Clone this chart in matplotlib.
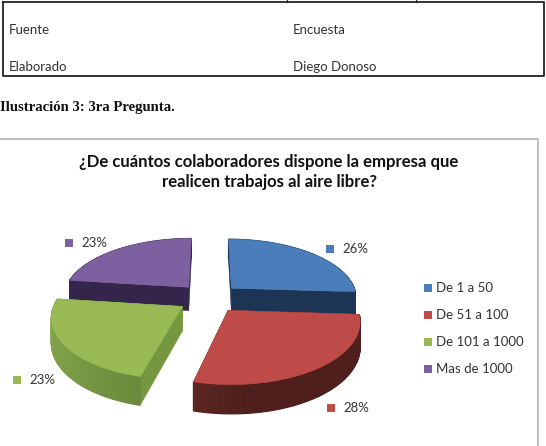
import numpy as np
import matplotlib
matplotlib.use('Agg')
import matplotlib.pyplot as plt
from matplotlib.patches import Polygon, Rectangle
from matplotlib.colors import to_rgb

# chart data
categories = ['De 1 a 50', 'De 51 a 100', 'De 101 a 1000', 'Mas de 1000']
shares = [26, 28, 23, 23]
share_labels = ['26%', '28%', '23%', '23%']
colors = ['#4a7ebb', '#be4b48', '#98b954', '#7d60a0']
edge_colors = ['#1c3555', '#4e1f1c', '#76963f', '#33264a']
wall_light = ['#264a75', '#7c3330', '#83a34a', '#33264a']
wall_dark = ['#1c3555', '#4e1f1c', '#5f7d35', '#33264a']
title = '¿De cuántos colaboradores dispone la empresa que\nrealicen trabajos al aire libre?'

# table fragment above the chart
table_rows = [('Fuente', 'Encuesta'), ('Elaborado', 'Diego Donoso')]
caption = 'Ilustración 3: 3ra Pregunta.'

# projection of the pie
CX, CY = 209, 298
RX, RY = 126, 59
TILT = 0.15
HEIGHT = 24
EXPLODE = 0.25

plt.rcParams['font.family'] = ['Lato', 'DejaVu Sans']

fig = plt.figure(figsize=(5.46, 4.46), dpi=100)
ax = fig.add_axes([0, 0, 1, 1])
ax.set_xlim(0, 546)
ax.set_ylim(446, 0)
ax.axis('off')


def project(x, y, z):
    s = 1 / (1 + TILT * y)
    return CX + RX * x * s, CY - RY * y * s - HEIGHT * (z - 1) * s


def face(points, color, zorder, lw=0.4):
    ax.add_patch(Polygon(points, closed=True, facecolor=color, edgecolor=color,
                         linewidth=lw, zorder=zorder))


def draw_slice(start, stop, i, zorder):
    mid = np.radians((start + stop) / 2)
    ox, oy = EXPLODE * np.cos(mid), EXPLODE * np.sin(mid)
    angles = np.radians(np.linspace(start, stop, 80))
    xs = ox + np.cos(angles)
    ys = oy + np.sin(angles)

    # flat side faces running from the centre to the rim
    for k in (0, -1):
        face([project(ox, oy, 1), project(xs[k], ys[k], 1),
              project(xs[k], ys[k], 0), project(ox, oy, 0)], edge_colors[i], zorder)

    # curved wall, shaded from the left end towards the middle
    light = np.array(to_rgb(wall_light[i]))
    dark = np.array(to_rgb(wall_dark[i]))
    for k in range(len(angles) - 1):
        t = np.clip((np.cos(angles[k]) + 1) / 1.1, 0, 1)
        face([project(xs[k], ys[k], 1), project(xs[k + 1], ys[k + 1], 1),
              project(xs[k + 1], ys[k + 1], 0), project(xs[k], ys[k], 0)],
             light + (dark - light) * t, zorder + 0.1, lw=0.9)

    top = [project(ox, oy, 1)] + [project(x, y, 1) for x, y in zip(xs, ys)]
    face(top, colors[i], zorder + 0.2)


# slices run clockwise from twelve o'clock
bounds = 90 - 3.6 * np.cumsum([0] + shares)
for i in [0, 3, 2, 1]:
    draw_slice(bounds[i], bounds[i + 1], i, 3 + [0, 3, 2, 1].index(i))

# table
ax.plot([3, 544, 544, 3, 3], [2, 2, 75.5, 75.5, 2], color='#222222', lw=1.3, zorder=2)
ax.plot([286.5, 286.5], [0, 2], color='#222222', lw=0.8)
ax.plot([416, 416], [0, 2], color='#222222', lw=0.8)
for (left, right), y in zip(table_rows, [30, 67]):
    ax.text(9, y, left, fontsize=9.5, color='#333333', va='center')
    ax.text(293, y, right, fontsize=9.5, color='#333333', va='center')

ax.text(0, 108, caption, family='Liberation Serif', fontweight='bold', fontsize=10.6,
        color='#111111', va='center')

# chart frame, open at the bottom edge of the page
ax.plot([0, 538, 538], [138.5, 138.5, 446], color='#c0c0c0', lw=1.5, zorder=2)
ax.text(269, 172, title, fontsize=12.1, fontweight='bold', color='#111111',
        ha='center', va='center', linespacing=1.38)

# data labels with their colour keys
label_pos = [(326, 249), (327, 408), (13, 380), (65, 243)]
for (x, y), text, color in zip(label_pos, share_labels, colors):
    ax.add_patch(Rectangle((x, y - 4), 8, 8, facecolor=color, edgecolor='none', zorder=8))
    ax.text(x + 16, y, text, fontsize=9.5, color='#333333', va='center', zorder=8)

# legend
for y, name, color in zip([288, 315, 342, 369], categories, colors):
    ax.add_patch(Rectangle((424, y - 4), 8, 8, facecolor=color, edgecolor='none', zorder=8))
    ax.text(436, y, name, fontsize=9.5, color='#333333', va='center', zorder=8)

fig.savefig('out.png', dpi=100)
